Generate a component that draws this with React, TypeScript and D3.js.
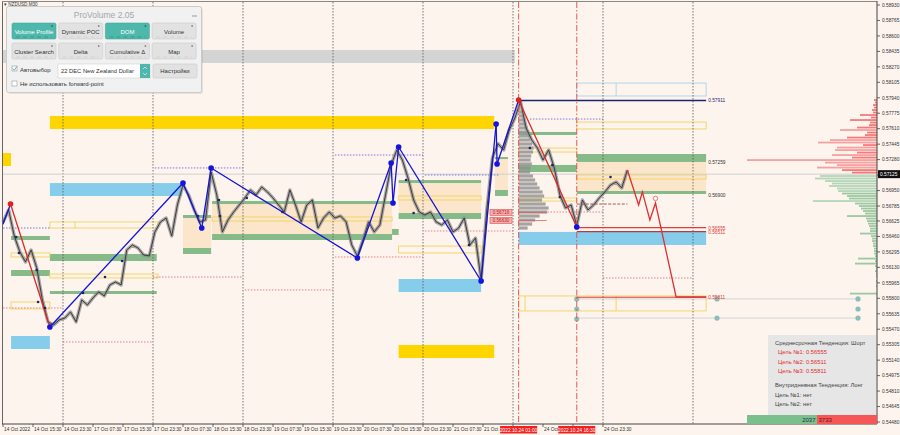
import React from 'react';
import * as d3 from 'd3';

const W = 900;
const H = 435;

// ---- price series: close every 3 thirty-minute bars ----
const SAMPLE_STEP = 3;
const closes = [
  0.56615, 0.56743, 0.56465, 0.56295, 0.56188, 0.56316, 0.56124, 0.55782, 0.55548, 0.55516,
  0.55569, 0.5559, 0.55654, 0.55548, 0.55782, 0.55729, 0.55804, 0.55868, 0.55825, 0.55943,
  0.55974, 0.55943, 0.56316, 0.56369, 0.56337, 0.56262, 0.56252, 0.56508, 0.56615, 0.56657,
  0.56465, 0.56796, 0.57009, 0.56903, 0.56743, 0.56615, 0.56636, 0.57148, 0.56903, 0.56508,
  0.56636, 0.56721, 0.56796, 0.56871, 0.56956, 0.56903, 0.56988, 0.56935, 0.56871, 0.56796,
  0.56721, 0.56956, 0.56796, 0.56615, 0.56796, 0.56849, 0.5655, 0.56657, 0.56721, 0.56657,
  0.56679, 0.56615, 0.56369, 0.56252, 0.56423, 0.56615, 0.56508, 0.56583, 0.56903, 0.57223,
  0.57383, 0.57276, 0.57084, 0.56849, 0.56721, 0.56689, 0.56721, 0.56615, 0.56583, 0.56636,
  0.56508, 0.5655, 0.56657, 0.56369, 0.56444, 0.55995, 0.56743, 0.57297, 0.5745, 0.57383,
  0.57596, 0.57724, 0.579, 0.57617, 0.57489, 0.57404, 0.57276, 0.57383, 0.57191, 0.56903,
  0.56764, 0.56796, 0.56575, 0.56849, 0.56743, 0.56796, 0.56871, 0.56935, 0.57009, 0.57041,
  0.56977, 0.57169,
];
const currentPrice = 0.57125;

// ---- zigzag (bar index, price) ----
const zigBars = [0, 4, 25, 96, 106, 111, 189, 207, 208, 211, 255, 263, 263.5, 275, 306];
const zigPrices = [0.5659, 0.56806, 0.55494, 0.5703, 0.5655, 0.5719, 0.5623, 0.57244, 0.56817, 0.57415, 0.55985, 0.5766, 0.57233, 0.57916, 0.56561];
const zigRedSegments = [1, 13];
const zigRedPoints = [1, 13];
// projected path
const fcBars = [333, 339, 341, 345, 348, 359, 375];
const fcPrices = [0.57169, 0.56796, 0.56935, 0.56636, 0.56817, 0.55814, 0.55814];

// minor swing dots
const dotBars = [7, 8.5, 18, 18.7, 22.4, 42.7, 54.4, 63.5, 104, 115.2, 115.7, 130, 149, 215, 219, 248.5, 281, 293, 297, 324];
const dotPrices = [0.56454, 0.56284, 0.56102, 0.55761, 0.55697, 0.55857, 0.56027, 0.56198, 0.56679, 0.56849, 0.56679, 0.56871, 0.56721, 0.57062, 0.5671, 0.56369, 0.57404, 0.57223, 0.56881, 0.57094];

// ---- zones: [bar0, bar1, priceTop, priceBottom] ----
type Zone = [number, number, number, number];
const goldZones: Zone[] = [[25, 262, 0.57745, 0.57607], [0, 4.3, 0.5735, 0.57212], [211, 262, 0.55302, 0.55163]];
const skyZones: Zone[] = [[25, 95.5, 0.5703, 0.56892], [4.3, 25, 0.55398, 0.55259], [211, 255, 0.56006, 0.55867], [275, 375, 0.56508, 0.56369]];
const grayZones: Zone[] = [[0, 273, 0.5845, 0.58311]];
const beigeZones: Zone[] = [
  [96, 111, 0.56657, 0.56337], [111.5, 207.5, 0.56806, 0.56486], [211, 255, 0.5703, 0.5671],
  [262.4, 269.3, 0.57286, 0.56956], [306, 375, 0.57255, 0.56945],
];
const greenZones: Zone[] = [
  [4.3, 25, 0.56465, 0.56422], [4.3, 25, 0.56102, 0.56038], [25, 82, 0.56273, 0.56198], [25, 82, 0.55878, 0.55846],
  [96, 111, 0.56689, 0.56657], [96, 111, 0.56337, 0.56273], [111.5, 207.5, 0.56838, 0.56806], [111.5, 207.5, 0.56486, 0.56422],
  [207.5, 211, 0.5654, 0.56476], [211, 255, 0.57062, 0.5703], [211, 255, 0.5671, 0.56646], [262.4, 269.3, 0.57308, 0.57286],
  [262.4, 269.3, 0.56956, 0.56892], [275, 306, 0.57575, 0.57543], [275, 306, 0.57223, 0.57148], [306, 375, 0.5734, 0.57255],
  [306, 375, 0.56945, 0.56913],
];
const yellowBoxes: Zone[] = [
  [25, 82.7, 0.56615, 0.5655], [4.3, 25, 0.56284, 0.56241], [25, 82.7, 0.56059, 0.56017], [4.3, 25, 0.55761, 0.55686],
  [111.5, 207.5, 0.56668, 0.56625], [211, 255, 0.56892, 0.56849], [211, 255, 0.56358, 0.56284], [275, 306, 0.57404, 0.57361],
  [275, 306, 0.56871, 0.56838], [306, 375, 0.57681, 0.57607], [306, 375, 0.57116, 0.57073], [275, 375, 0.55825, 0.55665],
];
const yellowDividerBars = [38.4, 278.4, 327];
const yellowDividerBox = [0, 11, 11];
const blueBoxes: Zone[] = [[306, 375, 0.58097, 0.57959]];
const blueDividerBar = 327;

// ---- dotted levels: [bar0, bar1, price] ----
type Seg = [number, number, number];
const blueDotted: Seg[] = [[0, 25, 0.5655], [81, 128, 0.57191], [177, 224, 0.57329], [225, 265, 0.57116], [281, 320, 0.57713]];
const redDotted: Seg[] = [[0, 32, 0.55697], [32, 80, 0.55334], [80, 128, 0.56027], [129, 176, 0.55889], [177, 224, 0.56241], [225, 272, 0.56518], [276, 320, 0.56721], [320, 368, 0.56017]];
const pocDashed: Seg = [306, 333, 0.56806];

// ---- labelled target lines ----
const navyLevel: Seg = [275, 375, 0.57911];
const redLevels: Seg[] = [[306, 375, 0.56555], [306, 375, 0.56511], [306, 375, 0.55811]];
const sideLabels = ['0.57911', '0.57259', '0.56900', '0.56555', '0.56511', '0.55811'];
const sidePrices = [0.57911, 0.57259, 0.569, 0.56555, 0.56511, 0.55811];
const boxLabels = ['0.56716', '0.56630'];
const boxPrices = [0.56716, 0.5663];

// teal markers
const tealBars = [306, 306, 306, 380.8, 380.8, 456, 456, 456];
const tealPrices = [0.55793, 0.55686, 0.55579, 0.55793, 0.55589, 0.55793, 0.55686, 0.55589];
const tealLinks: Seg[] = [[306, 456, 0.55793], [306, 456, 0.55589]];
const targetMark: [number, number] = [348, 0.56866];

// ---- volume profile at session start (bar 275) ----
const profBar = 275;
const profTop = 0.57831;
const profStep = 0.000427;
const profVol = [5, 10, 14, 18, 22, 30, 35, 40, 38, 45, 50, 48, 42, 40, 44, 40, 38, 48, 55, 62, 70, 80, 85, 78, 90, 100, 95, 70, 55, 45, 30];

// ---- DOM histogram ----
const askTop = 0.57916;
const domStep = 0.000267;
const askSizes = [3, 2, 4, 3, 5, 4, 17, 6, 27, 7, 8, 20, 37, 10, 12, 30, 47, 59, 14, 40, 42, 20, 45, 25, 130, 52, 40, 60, 35, 25];
const bidTop = 0.57105;
const bidSizes = [57, 62, 52, 45, 48, 40, 39, 35, 30, 28, 64, 22, 18, 16, 14, 12, 30, 11, 10, 9, 8, 7, 7, 17, 6, 5, 5, 4, 4, 3, 3, 3, 2, 19, 2, 22, 2, 1, 2, 1, 1, 0, 1, 0, 1, 0, 0, 27, 0];

// ---- axes ----
const yTickValues = [0.5893, 0.58765, 0.586, 0.58435, 0.5827, 0.58105, 0.5794, 0.57775, 0.5761, 0.57445, 0.5728, 0.57115, 0.5695, 0.56785, 0.56625, 0.5646, 0.56295, 0.5613, 0.55965, 0.558, 0.55635, 0.5547, 0.55305, 0.5514, 0.54975, 0.5481, 0.54645, 0.5448];
const timeLabels = ['14 Oct 2022', '14 Oct 15:30', '14 Oct 23:30', '17 Oct 07:30', '17 Oct 15:30', '17 Oct 23:30', '18 Oct 07:30', '18 Oct 15:30', '18 Oct 23:30', '19 Oct 07:30', '19 Oct 15:30', '19 Oct 23:30', '20 Oct 07:30', '20 Oct 15:30', '20 Oct 23:30', '21 Oct 07:30', '21 Oct 15:30', '21 Oct 23:30', '24 Oct 07:30', '24 Oct 15:30', '24 Oct 23:30'];
const LABEL_EVERY = 16;
const daySeparators = [32, 80, 128, 176, 224, 272, 320, 368];
const sessionBars = [275, 306];
const sessionLabels = ['2022.10.24 01:00', '2022.10.24 16:30'];

// info box
const infoLines = ['Среднесрочная Тенденция: Шорт', 'Цель №1: 0.56555', 'Цель №2: 0.56511', 'Цель №3: 0.55811', 'Внутридневная Тенденция: Лонг', 'Цель №1: нет', 'Цель №2: нет'];
const infoRed = [false, true, true, true, false, false, false];
const bidTotal = '2037';
const askTotal = '3733';

const panelRow1 = ['Volume Profile', 'Dynamic POC', 'DOM', 'Volume'];
const panelRow2 = ['Cluster Search', 'Delta', 'Cumulative Δ', 'Map'];
const panelActive = [true, false, true, false];

const FONT = 'Liberation Sans, Arial, sans-serif';

export default function App() {
  const x = d3.scaleLinear().domain([0, 466]).range([3, 876.75]);
  const y = d3.scaleLinear().domain([0.5448, 0.5893]).range([422, 5]);
  const domX = d3.scaleLinear().domain([0, 1]).range([0, 1]);
  const profX = d3.scaleLinear().domain([0, 100]).range([0, 30]);

  const line = d3.line<number>().x((_, i) => x(i * SAMPLE_STEP)).y((d) => y(d));
  const pricePath = line(closes) || '';
  const fcLine = d3.line<number>().x((_, i) => x(fcBars[i])).y((d) => y(d));

  const zoneRect = (z: Zone, fill: string, key: string, extra: any = {}) => (
    <rect key={key} x={x(z[0])} y={y(z[2])} width={x(z[1]) - x(z[0])} height={Math.max(1, y(z[3]) - y(z[2]))} fill={fill} {...extra} />
  );

  const px = 877; // axis x
  const py = 424; // axis y

  const zigSegs = zigBars.slice(1).map((_, i) => {
    const red = zigRedSegments.includes(i);
    return (
      <line key={'zs' + i} x1={x(zigBars[i])} y1={y(zigPrices[i])} x2={x(zigBars[i + 1])} y2={y(zigPrices[i + 1])}
        stroke={red ? '#E02828' : '#1414D8'} strokeWidth={1.3} />
    );
  });

  // time labels hidden behind the red session markers are not drawn
  const sessionX = sessionBars.map((b) => x(b));
  const hiddenTime = (tx: number) => sessionX.some((sx) => Math.abs(tx - sx) < 8);

  return (
    <svg width={W} height={H} style={{ position: 'absolute', left: 0, top: 0, fontFamily: FONT }}>
      <defs>
        {sessionX.map((sx, i) => (
          <clipPath key={'cp' + i} id={'cut' + i}>
            <rect x={0} y={0} width={sx - 18.5} height={H} />
          </clipPath>
        ))}
      </defs>
      <rect x={0} y={0} width={W} height={H} fill="#FDF4EE" />

      {/* zones */}
      {grayZones.map((z, i) => zoneRect(z, '#D4D4D4', 'g' + i))}
      {beigeZones.map((z, i) => zoneRect(z, '#FBE6CB', 'be' + i))}
      {goldZones.map((z, i) => zoneRect(z, '#FFD500', 'go' + i))}
      {skyZones.map((z, i) => zoneRect(z, '#86CDEB', 'sk' + i))}
      {greenZones.map((z, i) => zoneRect(z, '#86BA88', 'gr' + i))}
      {yellowBoxes.map((z, i) => zoneRect(z, 'none', 'yb' + i, { stroke: '#F3D35A', strokeWidth: 0.9 }))}
      {yellowDividerBars.map((b, i) => {
        const z = yellowBoxes[yellowDividerBox[i]];
        return <line key={'yd' + i} x1={x(b)} x2={x(b)} y1={y(z[2])} y2={y(z[3])} stroke="#F3D35A" strokeWidth={0.9} />;
      })}
      {blueBoxes.map((z, i) => zoneRect(z, 'none', 'bb' + i, { stroke: '#A8D4EA', strokeWidth: 0.9 }))}
      <line x1={x(blueDividerBar)} x2={x(blueDividerBar)} y1={y(blueBoxes[0][2])} y2={y(blueBoxes[0][3])} stroke="#A8D4EA" strokeWidth={0.9} />

      {/* day separators */}
      {daySeparators.map((b) => (
        <line key={'ds' + b} x1={x(b)} x2={x(b)} y1={2} y2={py} stroke="#555" strokeWidth={0.8} strokeDasharray="1.5,1.5" />
      ))}

      {/* current price line */}
      <line x1={3} x2={px} y1={y(currentPrice)} y2={y(currentPrice)} stroke="#CFCFCF" strokeWidth={1} />

      {/* dotted levels */}
      {blueDotted.map((s, i) => (
        <line key={'bd' + i} x1={x(s[0])} x2={x(s[1])} y1={y(s[2])} y2={y(s[2])} stroke="#5A5AE0" strokeWidth={0.8} strokeDasharray="1.5,1.5" />
      ))}
      {redDotted.map((s, i) => (
        <line key={'rd' + i} x1={x(s[0])} x2={x(s[1])} y1={y(s[2])} y2={y(s[2])} stroke="#E06464" strokeWidth={0.8} strokeDasharray="1.5,1.5" />
      ))}

      {/* teal markers */}
      {tealLinks.map((s, i) => (
        <line key={'tl' + i} x1={x(s[0])} x2={x(s[1])} y1={y(s[2])} y2={y(s[2])} stroke="#C8CCCC" strokeWidth={0.8} />
      ))}
      {tealBars.map((b, i) => (
        <circle key={'tc' + i} cx={x(b)} cy={y(tealPrices[i])} r={2.6} fill="#8EBDB8" />
      ))}

      {/* volume profile */}
      {profVol.map((v, i) => {
        const p = profTop - i * profStep;
        return <rect key={'pv' + i} x={x(profBar)} y={y(p) - 1.6} width={profX(v)} height={3.2} fill="#8E8E8E" opacity={0.8} />;
      })}
      {boxPrices.map((p, i) => (
        <line key={'bpl' + i} x1={x(profBar)} x2={x(profBar) + 28} y1={y(p)} y2={y(p)} stroke="#E06060" strokeWidth={0.8} />
      ))}

      {/* DOM histogram */}
      {askSizes.map((s, i) => (
        <rect key={'as' + i} x={px - domX(s)} y={y(askTop - i * domStep) - 0.9} width={domX(s)} height={1.8}
          fill={s > 36 ? '#F6A0A0' : '#F77A78'} />
      ))}
      {bidSizes.map((s, i) => (
        <rect key={'bs' + i} x={px - domX(s)} y={y(bidTop - i * domStep) - 0.9} width={domX(s)} height={1.8}
          fill={s > 36 ? '#B4D6B8' : '#9CC9A2'} />
      ))}

      {/* price */}
      <path d={pricePath} fill="none" stroke="#8C8C8C" strokeWidth={3.4} strokeLinejoin="round" opacity={0.75} />
      <path d={pricePath} fill="none" stroke="#333" strokeWidth={0.9} strokeLinejoin="round" />

      {/* target lines */}
      <line x1={x(navyLevel[0])} x2={x(navyLevel[1])} y1={y(navyLevel[2])} y2={y(navyLevel[2])} stroke="#1C2470" strokeWidth={1.3} />
      {redLevels.map((s, i) => (
        <line key={'rl' + i} x1={x(s[0])} x2={x(s[1])} y1={y(s[2])} y2={y(s[2])} stroke={i === 1 ? '#B04040' : '#E03C3C'} strokeWidth={1.2} />
      ))}
      <line x1={x(pocDashed[0])} x2={x(pocDashed[1])} y1={y(pocDashed[2])} y2={y(pocDashed[2])} stroke="#A05858" strokeWidth={1} strokeDasharray="3,1.5" />
      {sideLabels.map((t, i) => (
        <text key={'sl' + i} x={x(375) + 2} y={y(sidePrices[i]) + 2} fontSize={4.8}
          fill={i >= 3 ? '#E03C3C' : i === 0 ? '#1C2470' : '#333'}>{t}</text>
      ))}
      {boxLabels.map((t, i) => (
        <g key={'bl' + i}>
          <rect x={490} y={y(boxPrices[i]) - 3} width={22} height={6} fill="#F4B0B0" stroke="#E05050" strokeWidth={0.6} />
          <text x={501} y={y(boxPrices[i]) + 1.8} fontSize={4.6} textAnchor="middle" fill="#C02020">{t}</text>
        </g>
      ))}

      {/* session lines */}
      {sessionBars.map((b) => (
        <line key={'sb' + b} x1={x(b)} x2={x(b)} y1={2} y2={py} stroke="#E04848" strokeWidth={0.9} strokeDasharray="6,2,1.5,2" />
      ))}

      {/* zigzag */}
      {zigSegs}
      <path d={fcLine(fcPrices) || ''} fill="none" stroke="#E03030" strokeWidth={1.3} />
      <circle cx={x(targetMark[0])} cy={y(targetMark[1])} r={2.2} fill="none" stroke="#E06060" strokeWidth={0.8} />
      {dotBars.map((b, i) => (
        <circle key={'dd' + i} cx={x(b)} cy={y(dotPrices[i])} r={1.3} fill="#1C2470" />
      ))}
      {zigBars.map((b, i) => (i === 0 ? null : (
        <circle key={'zd' + i} cx={x(b)} cy={y(zigPrices[i])} r={2.8}
          fill={zigRedPoints.includes(i) ? '#E02020' : '#1414E0'} />
      )))}

      {/* frame & axes */}
      <line x1={2.5} x2={2.5} y1={1} y2={py} stroke="#666" strokeWidth={1} />
      <line x1={2} x2={px} y1={1.5} y2={1.5} stroke="#888" strokeWidth={1} />
      <line x1={px} x2={px} y1={1} y2={py} stroke="#444" strokeWidth={1} />
      <line x1={2} x2={px} y1={py} y2={py} stroke="#444" strokeWidth={1} />
      {yTickValues.map((v) => (
        <g key={'yt' + v}>
          <line x1={px} x2={px + 3} y1={y(v)} y2={y(v)} stroke="#444" strokeWidth={0.8} />
          {Math.abs(y(v) - y(currentPrice)) > 6 && (
            <text x={px + 5} y={y(v) + 1.8} fontSize={4.8} fill="#333">{v.toFixed(5)}</text>
          )}
        </g>
      ))}
      <rect x={px + 1} y={y(currentPrice) - 4} width={22} height={8} fill="#111" />
      <text x={px + 3} y={y(currentPrice) + 1.8} fontSize={4.8} fill="#fff">{currentPrice.toFixed(5)}</text>

      {timeLabels.map((t, i) => {
        const tx = x(i * LABEL_EVERY);
        const nextSession = sessionX.findIndex((sx) => sx - 18.5 > tx && sx - 18.5 < tx + 30);
        return (
          <g key={'tl' + i}>
            <line x1={tx} x2={tx} y1={py} y2={py + 3} stroke="#444" strokeWidth={0.8} />
            {!hiddenTime(tx) && (
              <text x={tx + 1} y={py + 7} fontSize={4.8} fill="#333"
                clipPath={nextSession >= 0 ? `url(#cut${nextSession})` : undefined}>{t}</text>
            )}
          </g>
        );
      })}
      {sessionBars.map((b, i) => (
        <g key={'slb' + i}>
          <rect x={x(b) - 18.5} y={py + 2} width={37} height={7.5} fill="#F42020" />
          <text x={x(b)} y={py + 7.5} fontSize={4.8} fill="#fff" textAnchor="middle">{sessionLabels[i]}</text>
        </g>
      ))}

      {/* info box */}
      <rect x={768} y={335} width={108} height={80} fill="#E6E6E6" />
      {infoLines.map((t, i) => {
        const ys = [345, 354, 363.5, 373, 387, 396.5, 405.5];
        return (
          <text key={'il' + i} x={infoRed[i] ? 778 : 775} y={ys[i]} fontSize={5.8} fill={infoRed[i] ? '#E03030' : '#444'}>{t}</text>
        );
      })}
      <rect x={747} y={415} width={70} height={9} fill="#7BBF8D" />
      <rect x={817} y={415} width={60} height={9} fill="#F65656" />
      <text x={815.5} y={422} fontSize={6} textAnchor="end" fill="#234">{bidTotal}</text>
      <text x={818.5} y={422} fontSize={6} fill="#6A1010">{askTotal}</text>

      {/* header */}
      <text x={4} y={6} fontSize={4.6} fill="#333">▾ NZDUSD,M30</text>

      {/* ProVolume panel */}
      <rect x={8} y={8} width={195} height={86} rx={2} fill="#000" opacity={0.08} />
      <rect x={6.5} y={6.5} width={195} height={86} rx={2} fill="#F1F1F1" stroke="#CBCBCB" />
      <text x={104} y={18} fontSize={8.5} fill="#A6A6A6" textAnchor="middle">ProVolume 2.05</text>
      <line x1={192} x2={197} y1={16} y2={16} stroke="#999" strokeWidth={1} />
      {[panelRow1, panelRow2].map((row, r) =>
        row.map((label, c) => {
          const bx = 12 + c * 46.7;
          const by = r === 0 ? 23 : 43;
          const active = r === 0 && panelActive[c];
          return (
            <g key={'pb' + r + c}>
              <rect x={bx} y={by} width={44} height={16} rx={1.5} fill={active ? '#4FB8AC' : '#E2E2E2'} stroke={active ? '#45A89C' : '#CACACA'} strokeWidth={0.6} />
              <text x={bx + 22} y={by + 10.5} fontSize={6} textAnchor="middle" fill={active ? '#fff' : '#333'}>{label}</text>
              <line x1={bx + 4} x2={bx + 40} y1={by + 14} y2={by + 14} stroke={active ? '#3A8E84' : '#CFCFCF'} strokeWidth={0.8} strokeDasharray="4,3" />
              <circle cx={bx + 40} cy={by + 3} r={0.9} fill={active ? '#2E6E66' : '#888'} />
            </g>
          );
        })
      )}
      <rect x={12} y={66} width={5} height={5} fill="#fff" stroke="#999" strokeWidth={0.6} />
      <path d="M12.8 68.5 L14.3 70.3 L17 66.3" fill="none" stroke="#4FB8AC" strokeWidth={0.9} />
      <text x={20} y={71.5} fontSize={6} fill="#333">Автовыбор</text>
      <rect x={58} y={64} width={92} height={14} fill="#fff" stroke="#D0D0D0" strokeWidth={0.6} />
      <text x={61} y={73} fontSize={5.8} fill="#333">22 DEC New Zealand Dollar</text>
      <rect x={140} y={64} width={10} height={14} fill="#4FB8AC" />
      <path d="M143 69 L145 67 L147 69 M143 73 L145 75 L147 73" fill="none" stroke="#fff" strokeWidth={0.6} />
      <rect x={153} y={64} width={44} height={14} rx={1.5} fill="#E2E2E2" stroke="#CACACA" strokeWidth={0.6} />
      <text x={175} y={73} fontSize={6} textAnchor="middle" fill="#333">Настройки</text>
      <rect x={12} y={81} width={5} height={5} fill="#fff" stroke="#999" strokeWidth={0.6} />
      <text x={20} y={86} fontSize={6} fill="#333">Не использовать forward-point</text>
    </svg>
  );
}
